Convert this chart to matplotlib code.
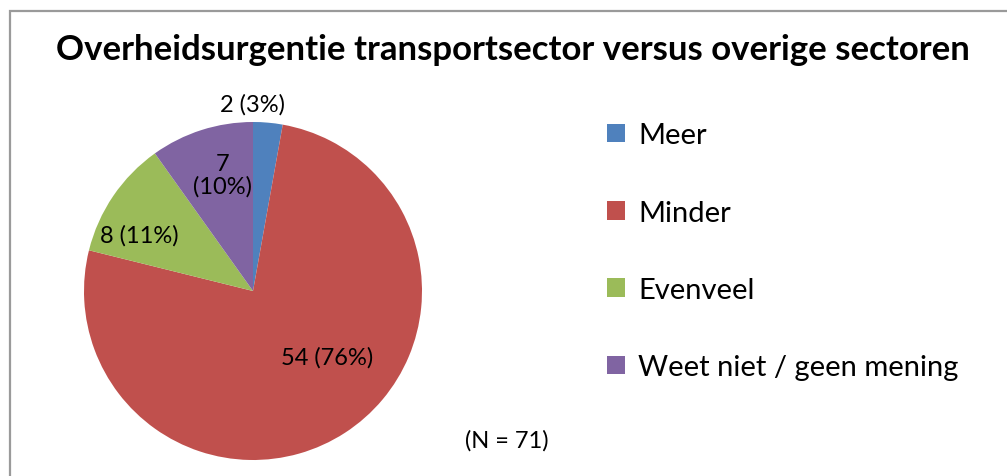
import matplotlib
matplotlib.use("Agg")
import matplotlib.pyplot as plt
from matplotlib.patches import Rectangle

plt.rcParams['font.family'] = ['Lato', 'DejaVu Sans']

categories = ['Meer', 'Minder', 'Evenveel', 'Weet niet / geen mening']
counts = [2, 54, 8, 7]
colors = ['#4F81BD', '#C0504D', '#9BBB59', '#8064A2']
title = 'Overheidsurgentie transportsector versus overige sectoren'
total = sum(counts)

fig = plt.figure(figsize=(10.07, 4.77), dpi=100)

# chart border (grey frame, runs off the right/bottom of the image)
fig.patches.append(Rectangle((10 / 1007, -0.1), 1.2, (477 - 12) / 477 + 0.1,
                             transform=fig.transFigure, fill=False,
                             edgecolor='#9a9a9a', linewidth=1.6))

fig.text(513 / 1007, 1 - 50 / 477, title, ha='center', va='center',
         fontsize=25, fontweight='bold')

ax = fig.add_axes([(253 - 169) / 1007, (477 - 292 - 169) / 477, 338 / 1007, 338 / 477])
wedges, _ = ax.pie(counts, colors=colors, startangle=90, counterclock=False,
                   radius=1.0, wedgeprops=dict(linewidth=0))
ax.set_xlim(-1, 1)
ax.set_ylim(-1, 1)
ax.set_aspect('equal')
ax.axis('off')

# data labels (Excel "best fit" placement)
label_pos = [(0.0, 1.11), (0.44, -0.39), (-0.67, 0.33), (-0.18, 0.69)]
for c, (lx, ly) in zip(counts, label_pos):
    pct = round(100 * c / total)
    txt = f'{c} ({pct}%)'
    if c == 7:
        txt = f'{c}\n({pct}%)'
    ax.text(lx, ly, txt, ha='center', va='center', fontsize=17,
            linespacing=1.05, clip_on=False)

leg = fig.legend(wedges, categories, loc='upper left',
                 bbox_to_anchor=(581 / 1007, 1 - 97 / 477), frameon=False,
                 fontsize=21, handlelength=0.62, handleheight=0.62,
                 handletextpad=0.45, labelspacing=1.76)

fig.text(507 / 1007, 1 - 441 / 477, f'(N = {total})', ha='center', va='center',
         fontsize=17)

fig.savefig('out.png', dpi=100)
